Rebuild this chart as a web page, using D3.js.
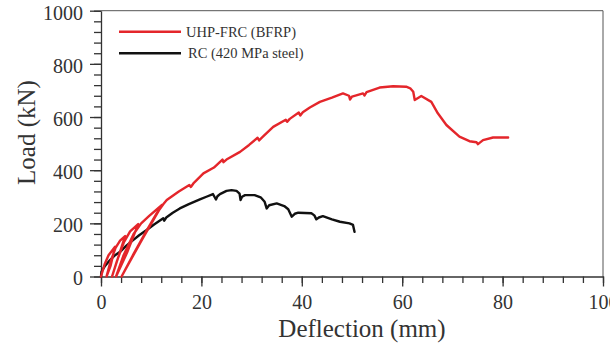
<!DOCTYPE html>
<html>
<head>
<meta charset="utf-8">
<script src="https://cdn.jsdelivr.net/npm/d3@7"></script>
<style>
  body { margin: 0; background: #fff; }
  svg text { font-family: "Liberation Serif", "Times New Roman", serif; fill: #333; }
</style>
</head>
<body>
<div id="chart"></div>
<script>
// load-deflection data (deflection in mm, load in kN)
var uhpDeflection = [0, 0.7, 1.5, 2.8, 1.9, 1.1, 1.8, 2.9, 3.8, 4.8, 3.4, 2.2, 3.2, 4.6, 5.8, 7.4,
    5.2, 3.0, 4.5, 6.5, 8.0, 9.6, 12.2, 8.2, 4.1, 6.5, 9.0, 11.0, 12.4,
    13.1, 15.5, 17.6, 17.9, 18.4, 20.4, 22.5, 24.2, 24.4, 25.0, 27.7, 29.5, 31.2, 31.5, 32.2,
    34.3, 36.8, 37.1, 37.6, 39.4, 39.7, 40.2, 41.6, 43.6, 46.0, 48.2, 49.4, 49.6, 50.0,
    52.2, 52.5, 52.9, 55.5, 58.2, 60.8, 61.6, 62.2, 62.5, 63.8, 65.8, 67.1, 68.8, 71.4,
    73.4, 74.8, 75.1, 76.1, 78.1, 81.1];
var uhpLoad = [0, 45, 80, 112, 40, 0, 50, 108, 135, 152, 70, 0, 60, 130, 170, 197,
    90, 0, 80, 160, 200, 228, 270, 140, 0, 85, 170, 235, 272,
    288, 320, 344, 337, 350, 388, 410, 440, 430, 440, 469, 495, 522, 512, 525,
    563, 590, 582, 593, 617, 606, 618, 636, 657, 673, 689, 680, 666, 677,
    689, 681, 694, 711, 716, 714, 708, 695, 664, 679, 657, 614, 570, 526,
    509, 505, 498, 513, 523, 523];

var rcDeflection = [0, 0.1, 0.8, 1.8, 2.8, 3.8, 5.0, 6.4, 7.6, 9.1, 10.5, 12.4, 12.6, 13.0,
    14.3, 15.7, 17.5, 19.7, 21.0, 22.3, 22.6, 22.9, 23.2, 23.7, 25.0, 26.0, 27.0, 27.6,
    27.8, 28.1, 28.7, 30.6, 31.8, 32.6, 33.0, 33.5, 35.0, 36.5, 37.3, 38.0, 38.6, 39.3,
    41.9, 42.5, 42.9, 43.4, 44.2, 46.0, 47.6, 49.5, 50.2, 50.5];
var rcLoad = [0, 18, 40, 62, 80, 93, 115, 137, 155, 175, 195, 219, 210, 222,
    240, 256, 272, 290, 300, 310, 300, 290, 302, 310, 322, 325, 322, 312,
    288, 300, 306, 306, 298, 281, 256, 268, 275, 265, 253, 225, 236, 240,
    238, 230, 215, 222, 227, 215, 206, 200, 194, 168];

var seriesNames = ["UHP-FRC (BFRP)", "RC (420 MPa steel)"];
var seriesColors = ["#e4262b", "#111111"];

var xMajor = [0, 20, 40, 60, 80, 100];
var yMajor = [0, 200, 400, 600, 800, 1000];

var width = 610, height = 343;
var margin = {left: 101, right: 7, top: 10.7, bottom: 66.5};

var svg = d3.select("#chart").append("svg")
    .attr("width", width)
    .attr("height", height);

var x = d3.scaleLinear().domain([0, 100]).range([margin.left, width - margin.right]);
var y = d3.scaleLinear().domain([0, 1000]).range([height - margin.bottom, margin.top]);

// frame (top and right)
svg.append("path")
    .attr("d", "M" + x(0) + "," + y(1000) + "H" + x(100) + "V" + y(0))
    .attr("fill", "none")
    .attr("stroke", "#555")
    .attr("stroke-width", 1);

// minor ticks
svg.append("g")
    .attr("transform", "translate(0," + y(0) + ")")
    .call(d3.axisBottom(x).tickValues(d3.range(0, 101, 4)).tickSize(6.5).tickFormat(""))
    .call(function (g) { g.select(".domain").remove(); });
svg.append("g")
    .attr("transform", "translate(" + x(0) + ",0)")
    .call(d3.axisLeft(y).tickValues(d3.range(0, 1001, 40)).tickSize(7).tickFormat(""))
    .call(function (g) { g.select(".domain").remove(); });

// major ticks with labels
var xAxis = svg.append("g")
    .attr("transform", "translate(0," + y(0) + ")")
    .call(d3.axisBottom(x).tickValues(xMajor).tickFormat(d3.format("d"))
        .tickSize(10).tickPadding(8.3).tickSizeOuter(0));
var yAxis = svg.append("g")
    .attr("transform", "translate(" + x(0) + ",0)")
    .call(d3.axisLeft(y).tickValues(yMajor).tickFormat(d3.format("d"))
        .tickSize(11).tickPadding(7).tickSizeOuter(0));

svg.selectAll(".tick line, .domain")
    .attr("stroke", "#333")
    .attr("stroke-width", 1.3);
xAxis.selectAll("text").style("font-size", "20px").attr("fill", "#333");
yAxis.selectAll("text").style("font-size", "20px").attr("fill", "#333").attr("dy", "0.42em");

// axis titles
svg.append("text")
    .attr("x", 362)
    .attr("y", 336.5)
    .attr("text-anchor", "middle")
    .style("font-size", "25px")
    .text("Deflection (mm)");

svg.append("text")
    .attr("transform", "translate(35,132.5) rotate(-90)")
    .attr("text-anchor", "middle")
    .style("font-size", "25px")
    .text("Load (kN)");

// curves
var line = d3.line()
    .x(function (d) { return x(d[0]); })
    .y(function (d) { return y(d[1]); });

var uhpData = d3.zip(uhpDeflection, uhpLoad);
var rcData = d3.zip(rcDeflection, rcLoad);

[rcData, uhpData].forEach(function (data, i) {
    svg.append("path")
        .datum(data)
        .attr("d", line)
        .attr("fill", "none")
        .attr("stroke", seriesColors[1 - i])
        .attr("stroke-width", 2.4)
        .attr("stroke-linejoin", "round")
        .attr("stroke-linecap", "round");
});

// legend
var legendY = [31.7, 53.3];
var legendTextX = [186, 188];
seriesNames.forEach(function (name, i) {
    svg.append("line")
        .attr("x1", 119).attr("x2", 181)
        .attr("y1", legendY[i]).attr("y2", legendY[i])
        .attr("stroke", seriesColors[i])
        .attr("stroke-width", 2.5);
    svg.append("text")
        .attr("x", legendTextX[i])
        .attr("y", legendY[i] + 5)
        .style("font-size", "14.5px")
        .text(name);
});
</script>
</body>
</html>
